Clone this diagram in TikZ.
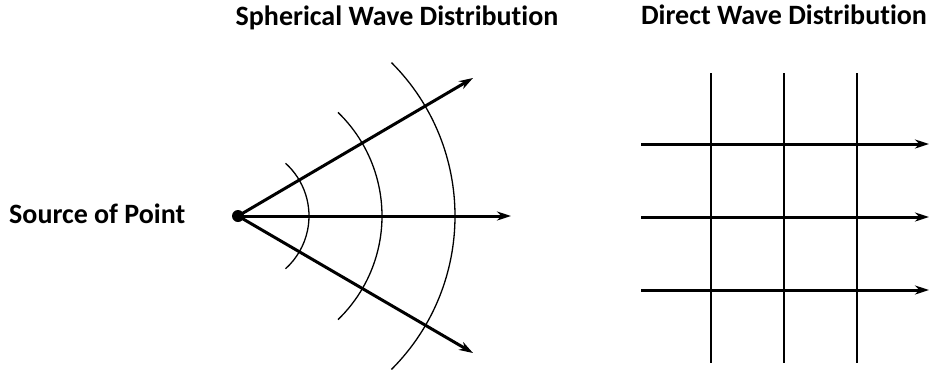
\documentclass[tikz,border=0pt]{standalone}
\usepackage{fontspec}
\setmainfont{Carlito}[Ligatures=NoCommon]
\usetikzlibrary{arrows.meta}

\begin{document}
\begin{tikzpicture}[x=1pt, y=-1pt, every node/.style={font=\bfseries\fontsize{28}{33}\selectfont}]
    \tikzset{
        ray/.style={line width=3pt, -{Stealth[length=14pt,width=9pt]}},
        front/.style={line width=1.3pt}
    }
    \useasboundingbox (0,0) rectangle (936,378);

    % titles
    \node[anchor=base, inner sep=0pt] (sphTitle) at (397,25) {Spherical Wave Distribution};
    \node[anchor=base, inner sep=0pt] (dirTitle) at (784,24) {Direct Wave Distribution};
    \node[anchor=base west, inner sep=0pt] (srcLabel) at (9,223) {Source of Point};

    % spherical waves from the point source
    \node[circle, fill, inner sep=0pt, minimum size=12pt] (src) at (238,216) {};
    \coordinate (rayUp) at (473,78);
    \coordinate (rayMid) at (511,216);
    \coordinate (rayDown) at (473,353);
    \foreach \r/\a in {71/48,144/46,217/45} {
        \draw[front] (src.center) ++(-\a:\r) arc[start angle=-\a, end angle=\a, radius=\r];
    }
    \foreach \t in {rayUp,rayMid,rayDown} {
        \draw[ray] (src.center) -- (\t);
    }

    % plane waves
    \foreach \x in {711,784,857} {
        \draw[front] (\x,73) -- (\x,363);
    }
    \foreach \y in {144,217,290} {
        \draw[ray] (641,\y) -- (929,\y);
    }
\end{tikzpicture}
\end{document}
